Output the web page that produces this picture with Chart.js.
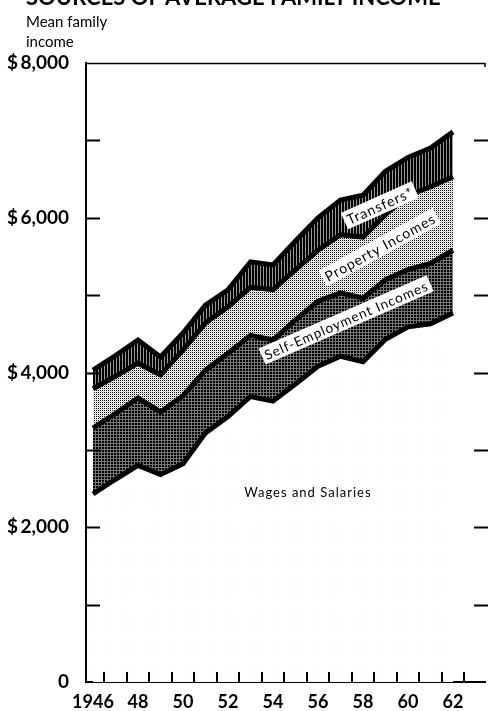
<!DOCTYPE html>
<html>
<head>
<meta charset="utf-8">
<script src="https://cdn.jsdelivr.net/npm/chart.js@4.4.1/dist/chart.umd.min.js"></script>
<style>
  html, body { margin: 0; padding: 0; background: #fff; }
  #wrap { position: relative; width: 488px; height: 711px; overflow: hidden; }
  #title { position: absolute; left: 26px; top: -14px; font: bold 22px Lato; line-height: 22px; white-space: nowrap; color: #000; }
  #unit { position: absolute; left: 26px; top: 11px; font: 15px Lato; line-height: 20px; color: #000; }
  #chart { position: absolute; left: 0; top: 0; }
</style>
</head>
<body>
<div id="wrap">
  <canvas id="chart" width="488" height="711"></canvas>
  <div id="title">SOURCES OF AVERAGE FAMILY INCOME</div>
  <div id="unit">Mean family<br>income</div>
</div>
<script>
// mean family income by source, dollars
const years = [1946, 1947, 1948, 1949, 1950, 1951, 1952, 1953, 1954, 1955, 1956, 1957, 1958, 1959, 1960, 1961, 1962];
const wages          = [2430, 2620, 2800, 2680, 2820, 3220, 3430, 3690, 3630, 3850, 4080, 4210, 4140, 4430, 4590, 4630, 4770];
const selfEmployment = [850, 850, 870, 810, 880, 810, 820, 790, 790, 830, 840, 820, 820, 770, 740, 780, 810];
const property       = [510, 480, 450, 480, 590, 610, 600, 620, 650, 650, 660, 750, 790, 840, 960, 990, 950];
const transfers      = [240, 270, 300, 230, 220, 230, 220, 330, 320, 370, 420, 450, 540, 560, 490, 500, 580];

const xTickValues = [1946, 1948, 1950, 1952, 1954, 1956, 1958, 1960, 1962];
const xTickLabels = ['1946', '48', '50', '52', '54', '56', '58', '60', '62'];
const yTickValues = [0, 2000, 4000, 6000, 8000];
const yTickLabels = ['0', '$\u20092,000', '$\u20094,000', '$\u20096,000', '$\u20098,000'];

function pattern(w, h, draw) {
    const c = document.createElement('canvas');
    c.width = w;
    c.height = h;
    const g = c.getContext('2d');
    g.fillStyle = '#fff';
    g.fillRect(0, 0, w, h);
    draw(g);
    return g.createPattern(c, 'repeat');
}

const wagesFill = pattern(13, 11, g => {
    g.fillStyle = '#ececec';
    g.fillRect(3, 4, 1, 1);
});
const selfFill = pattern(3, 3, g => {
    g.fillStyle = '#777';
    g.fillRect(0, 0, 3, 3);
    g.fillStyle = '#000';
    g.fillRect(0, 0, 2, 2);
});
const propertyFill = pattern(2, 2, g => {
    g.fillStyle = '#000';
    g.fillRect(0, 0, 1, 1);
    g.fillStyle = '#ccc';
    g.fillRect(1, 1, 1, 1);
});
const transfersFill = pattern(3, 1, g => {
    g.fillStyle = '#000';
    g.fillRect(0, 0, 2, 1);
    g.fillStyle = '#999';
    g.fillRect(2, 0, 1, 1);
});

const points = arr => arr.map((v, i) => ({ x: years[i], y: v }));

function series(label, values, fill, bg) {
    return {
        label: label,
        data: points(values),
        fill: fill,
        backgroundColor: bg,
        borderColor: '#000',
        borderWidth: 5,
        pointRadius: 0,
        tension: 0
    };
}

// band names, short tick marks and the top frame line
const decorations = {
    id: 'decorations',
    afterDraw(chart) {
        const ctx = chart.ctx;
        const x = chart.scales.x;
        const y = chart.scales.y;
        const area = chart.chartArea;

        ctx.save();
        ctx.strokeStyle = '#000';
        ctx.lineWidth = 2;
        ctx.beginPath();
        for (let v = 1000; v < 8000; v += 1000) {
            const py = Math.round(y.getPixelForValue(v)) + 0.5;
            ctx.moveTo(area.left, py);
            ctx.lineTo(area.left + 14, py);
            ctx.moveTo(area.right - 11, py);
            ctx.lineTo(area.right + 3, py);
        }
        for (let yr = years[0]; yr <= years[years.length - 1]; yr++) {
            const px = Math.round(x.getPixelForValue(yr + 0.5));
            ctx.moveTo(px, area.bottom);
            ctx.lineTo(px, area.bottom - 10);
        }
        ctx.stroke();

        ctx.lineWidth = 1.5;
        ctx.beginPath();
        ctx.moveTo(area.left, area.top + 0.5);
        ctx.lineTo(area.right, area.top + 0.5);
        ctx.lineTo(area.right, area.top + 4);
        ctx.stroke();

        const labels = [
            { text: 'Transfers*', year: 1958.75, value: 6160, angle: -24, size: 14, box: true },
            { text: 'Property Incomes', year: 1958.75, value: 5620, angle: -29, size: 14, box: true },
            { text: 'Self-Employment Incomes', year: 1957.25, value: 4680, angle: -23.5, size: 13.5, box: true },
            { text: 'Wages and Salaries', year: 1955.55, value: 2455, angle: 0, size: 13, box: false }
        ];
        labels.forEach(l => {
            ctx.save();
            ctx.translate(x.getPixelForValue(l.year), y.getPixelForValue(l.value));
            ctx.rotate(l.angle * Math.PI / 180);
            ctx.font = l.size + 'px Lato';
            ctx.letterSpacing = '1px';
            ctx.textAlign = 'center';
            ctx.textBaseline = 'middle';
            const w = ctx.measureText(l.text).width;
            if (l.box) {
                ctx.fillStyle = '#fff';
                ctx.fillRect(-w / 2 - 3, -l.size / 2 - 2, w + 6, l.size + 4);
            }
            ctx.fillStyle = '#000';
            ctx.fillText(l.text, 0, 1);
            ctx.restore();
        });
        ctx.restore();
    }
};

new Chart(document.getElementById('chart'), {
    type: 'line',
    data: {
        datasets: [
            series('Wages and Salaries', wages, 'origin', wagesFill),
            series('Self-Employment Incomes', selfEmployment, '-1', selfFill),
            series('Property Incomes', property, '-1', propertyFill),
            series('Transfers', transfers, '-1', transfersFill)
        ]
    },
    options: {
        responsive: false,
        animation: false,
        layout: { padding: { top: 63, right: 3, left: 0, bottom: 0 } },
        plugins: {
            legend: { display: false },
            tooltip: { enabled: false }
        },
        scales: {
            x: {
                type: 'linear',
                min: 1946 - 7 / 22.5,
                max: 1946 - 7 / 22.5 + 399 / 22.5,
                grid: { display: false },
                border: { display: true, color: '#000', width: 2 },
                afterFit: s => { s.height = 29; },
                afterBuildTicks: s => { s.ticks = xTickValues.map(v => ({ value: v })); },
                ticks: {
                    autoSkip: false,
                    maxRotation: 0,
                    padding: 1,
                    color: '#000',
                    font: { family: 'Lato', size: 18, weight: 'bold' },
                    callback: v => xTickLabels[xTickValues.indexOf(v)]
                }
            },
            y: {
                stacked: true,
                min: 0,
                max: 8000,
                grid: { display: false },
                border: { display: true, color: '#000', width: 2 },
                afterFit: s => { s.width = 86; },
                afterBuildTicks: s => { s.ticks = yTickValues.map(v => ({ value: v })); },
                ticks: {
                    padding: 9,
                    color: '#000',
                    font: { family: 'Lato', size: 19, weight: 'bold' },
                    callback: v => yTickLabels[yTickValues.indexOf(v)]
                }
            }
        }
    },
    plugins: [decorations]
});
</script>
</body>
</html>
